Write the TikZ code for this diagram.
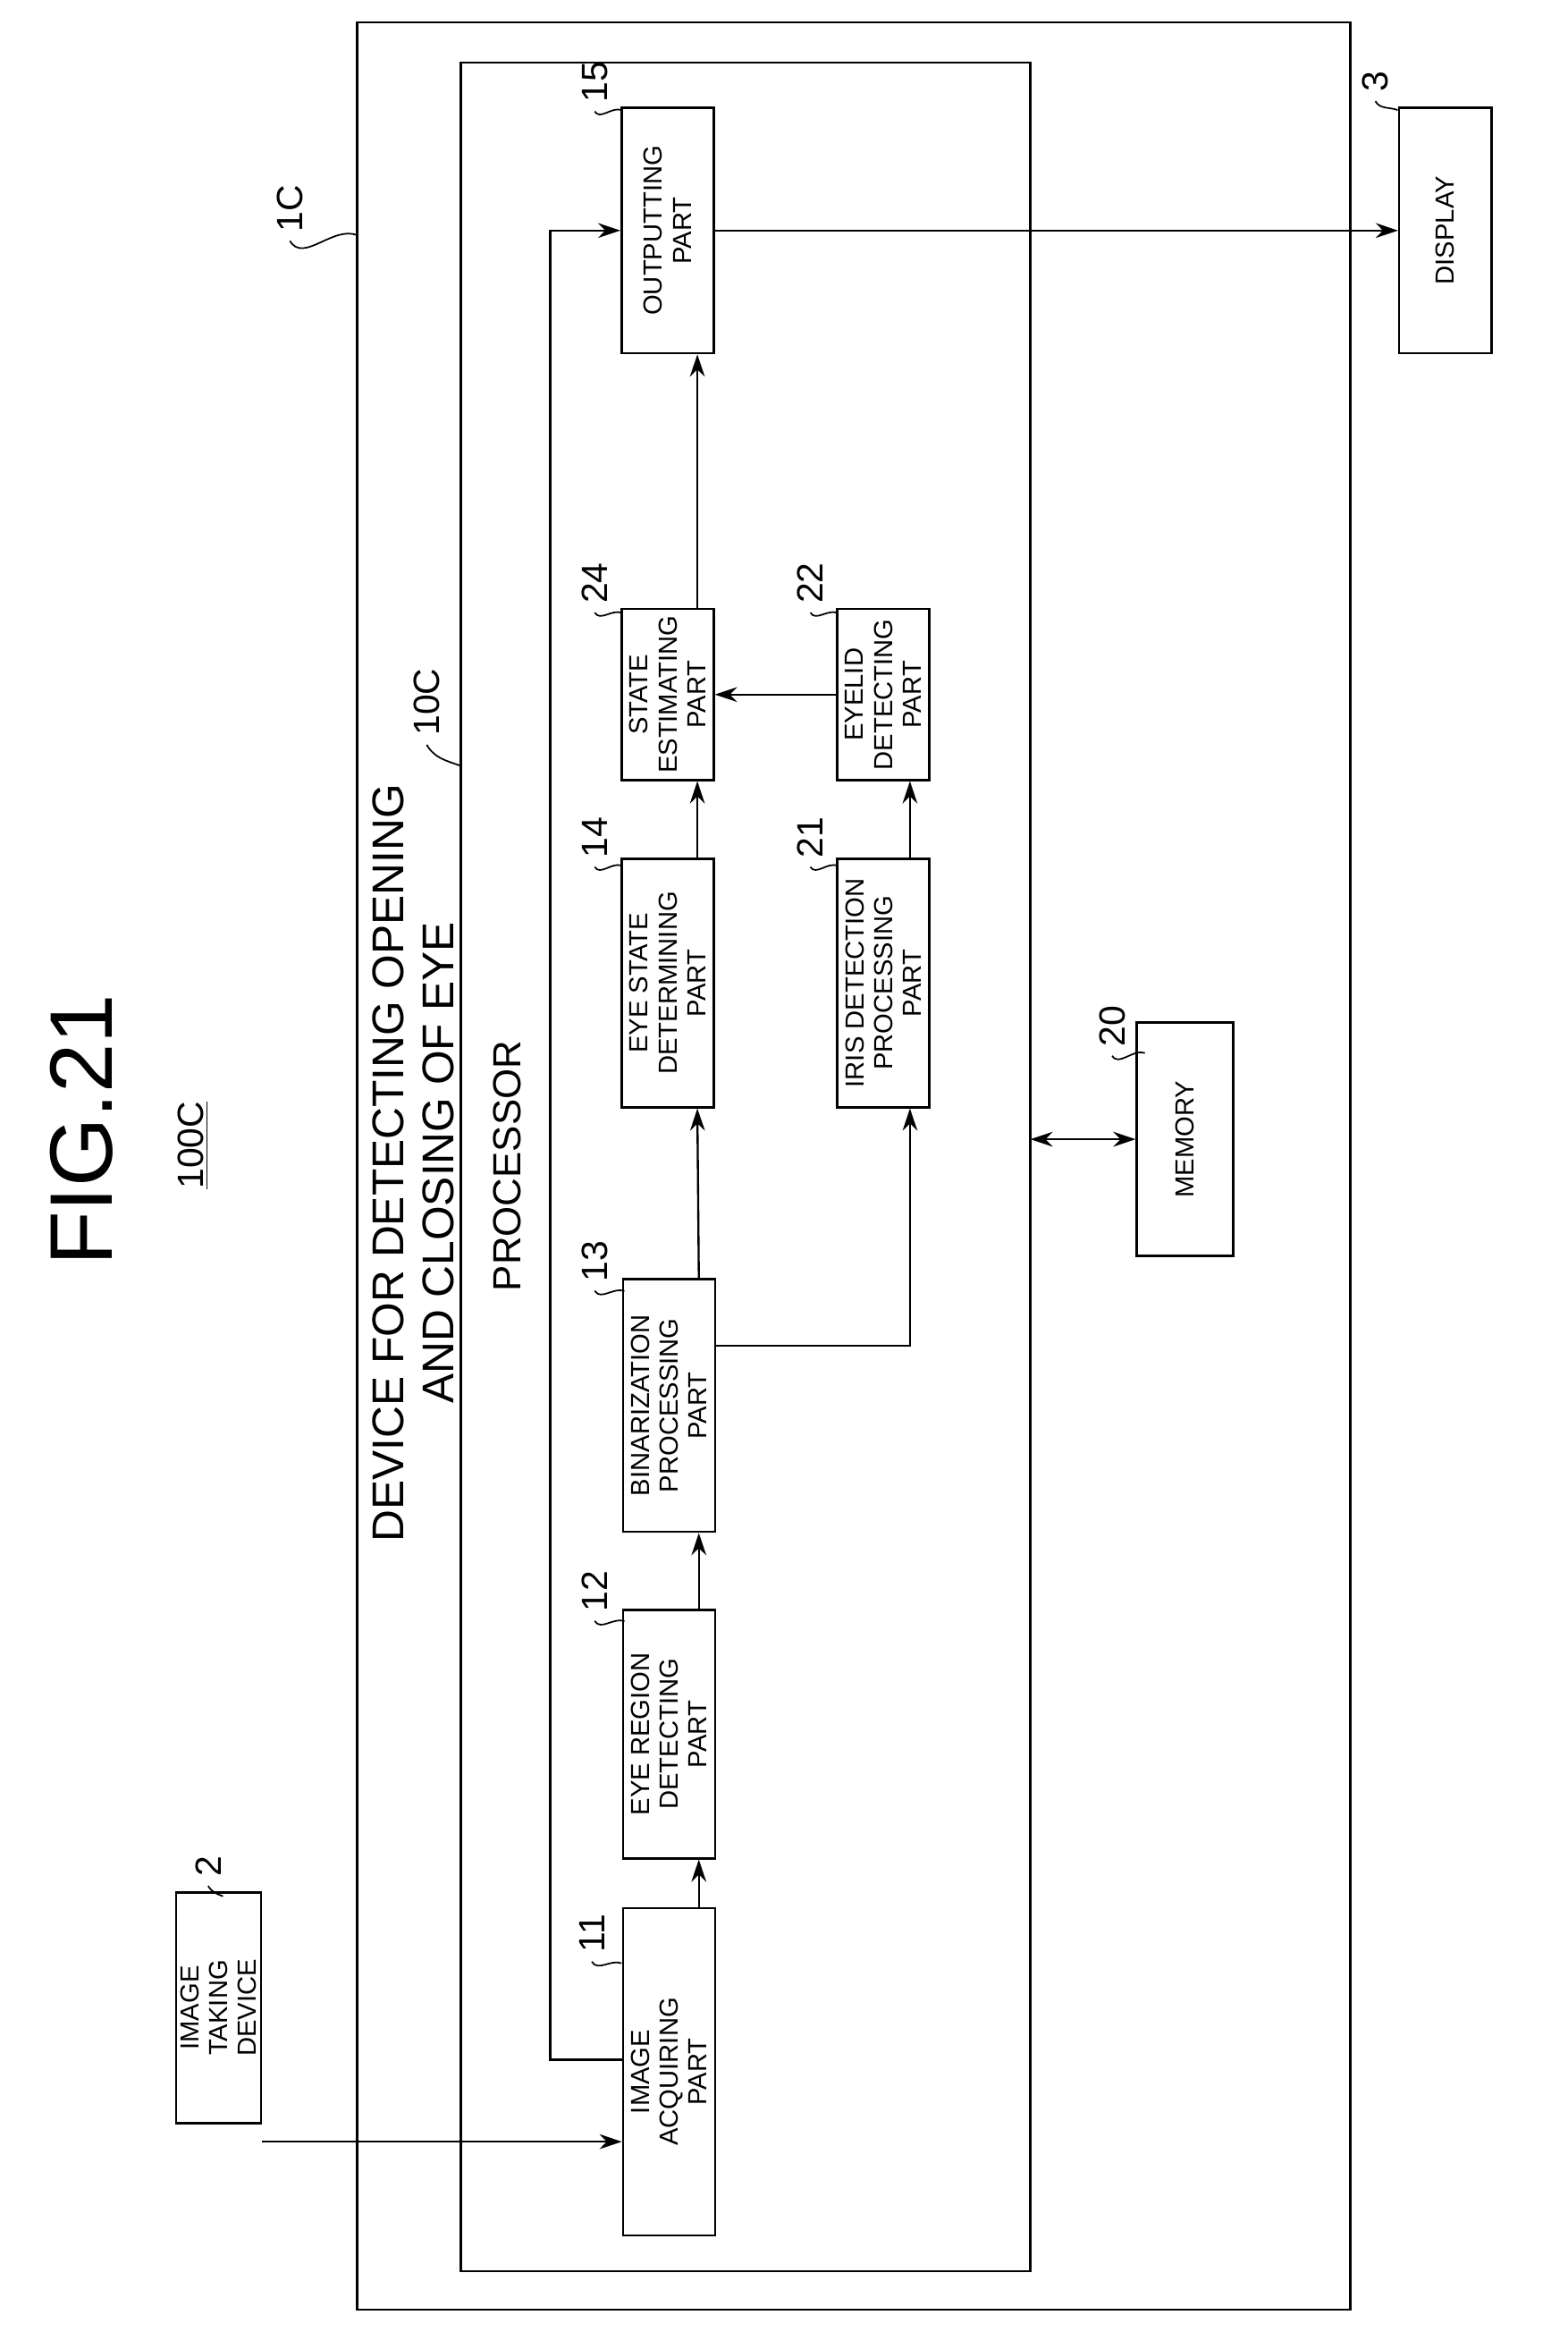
\documentclass[tikz,border=0pt]{standalone}
\usepackage{fontspec}
\setmainfont{Liberation Sans}
\usetikzlibrary{positioning, arrows.meta, calc}
\tikzset{
  blk/.style={draw, line width=0.9pt, rotate=90, align=center, inner sep=1pt,
    font=\fontsize{10}{11}\selectfont, minimum height=1.24cm},
  ref/.style={rotate=90, font=\fontsize{14}{15}\selectfont},
  lead/.style={line width=0.6pt},
  arr/.style={-{Stealth[length=3mm, width=2mm]}, line width=0.8pt}
}
\begin{document}
\begin{tikzpicture}[x=0.02cm, y=-0.02cm]
  \useasboundingbox (0,0) rectangle (1054,1568);
  % frames
  \draw[line width=0.9pt] (240,15) rectangle (908,1553);
  \draw[line width=0.9pt] (310,42) rectangle (693,1527);

  % titles
  \node[rotate=90, font=\fontsize{34}{36}\selectfont] (fig) at (55,760) {FIG.21};
  \node[rotate=90, font=\fontsize{14}{15}\selectfont] (sys) at (130,770) {\underline{100C}};
  \node[rotate=90, align=center, font=\fontsize{17}{19}\selectfont] (dev) at (278,782)
    {DEVICE FOR DETECTING OPENING\\AND CLOSING OF EYE};
  \node[rotate=90, font=\fontsize{15}{16}\selectfont] (proc) at (341,784) {PROCESSOR};

  % blocks
  \node[blk, minimum width=3.1cm, minimum height=1.14cm] (take2) at (147,1350) {IMAGE\\TAKING\\DEVICE};
  \node[blk, minimum width=4.4cm] (acq11) at (450,1393) {IMAGE\\ACQUIRING\\PART};
  \node[blk, minimum width=3.34cm] (reg12) at (450,1166) {EYE REGION\\DETECTING\\PART};
  \node[blk, minimum width=3.4cm] (bin13) at (450,945) {BINARIZATION\\PROCESSING\\PART};
  \node[blk, minimum width=3.34cm] (eye14) at (449,661) {EYE STATE\\DETERMINING\\PART};
  \node[blk, minimum width=3.34cm] (iris21) at (594,661) {IRIS DETECTION\\PROCESSING\\PART};
  \node[blk, minimum width=2.3cm] (est24) at (449,467) {STATE\\ESTIMATING\\PART};
  \node[blk, minimum width=2.3cm] (lid22) at (594,467) {EYELID\\DETECTING\\PART};
  \node[blk, minimum width=3.3cm] (out15) at (449,155) {OUTPUTTING\\PART};
  \node[blk, minimum width=3.3cm] (disp3) at (972,155) {DISPLAY};
  \node[blk, minimum width=3.14cm, minimum height=1.3cm] (mem20) at (797,766) {MEMORY};

  % reference numerals
  \node[ref] (n2) at (140,1255) {2};
  \node[ref] (n11) at (398,1300) {11};
  \node[ref] (n12) at (400,1070) {12};
  \node[ref] (n13) at (400,848) {13};
  \node[ref] (n14) at (400,563) {14};
  \node[ref] (n21) at (545,563) {21};
  \node[ref] (n24) at (400,392) {24};
  \node[ref] (n22) at (545,392) {22};
  \node[ref] (n15) at (400,55) {15};
  \node[ref] (n3) at (925,55) {3};
  \node[ref] (n20) at (748,690) {20};
  \node[ref] (n1C) at (195,140) {1C};
  \node[ref] (n10C) at (287,472) {10C};
  \foreach \n/\t in {n2/{150,1275}, n11/{418,1320}, n12/{420,1090}, n13/{420,868},
                     n14/{418,582}, n21/{563,582}, n24/{418,412}, n22/{563,412},
                     n15/{418,74}, n3/{940,74}, n20/{770,708}, n1C/{240,158}, n10C/{310,515}}
    \draw[lead] (\n.west) to[out=-60, in=160] (\t);

  % connectors
  \draw[arr] (take2.south |- 0,1440) -- (acq11.north |- 0,1440);
  \draw[arr] ([xshift=0.4cm]acq11.east) -- ([xshift=0.4cm]reg12.west);
  \draw[arr] ([xshift=0.4cm]reg12.east) -- ([xshift=0.4cm]bin13.west);
  \draw[arr] ([xshift=0.4cm]bin13.east) -- ([xshift=0.4cm]eye14.west);
  \draw[arr] ([xshift=0.4cm]eye14.east) -- ([xshift=0.4cm]est24.west);
  \draw[arr] ([xshift=0.4cm]est24.east) -- ([xshift=0.4cm]out15.west);
  \draw[arr] (bin13.south |- 0,905) -| ([xshift=0.36cm]iris21.west);
  \draw[arr] ([xshift=0.36cm]iris21.east) -- ([xshift=0.36cm]lid22.west);
  \draw[arr] (lid22.north) -- (est24.south);
  \draw[arr] (acq11.north |- 0,1385) -| (370,155) -- (out15.north);
  \draw[arr] (out15.south) -- (disp3.north);
  \draw[{Stealth[length=3mm, width=2mm]}-{Stealth[length=3mm, width=2mm]}, line width=0.8pt]
    (693,766) -- (mem20.north);
\end{tikzpicture}
\end{document}
